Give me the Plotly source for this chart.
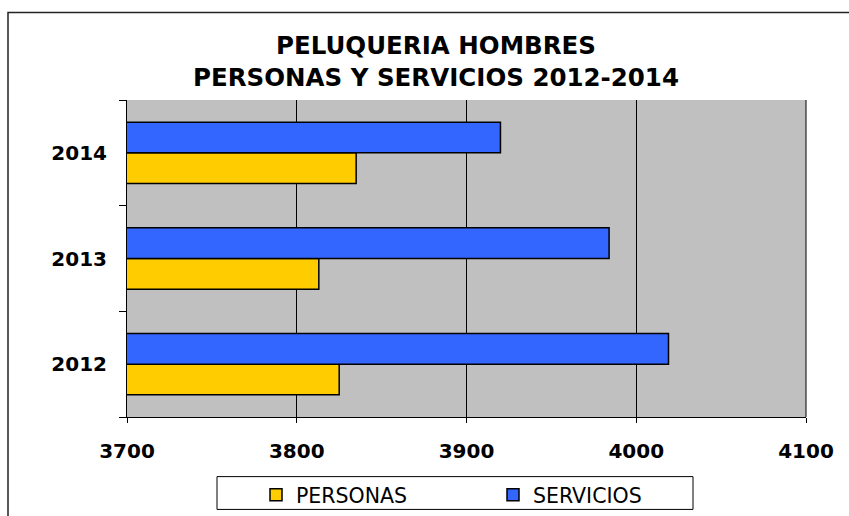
import plotly.graph_objects as go

# data
years = ["2012", "2013", "2014"]
personas = [3825, 3813, 3835]
servicios = [4019, 3984, 3920]
x_ticks = [3700, 3800, 3900, 4000, 4100]

fig = go.Figure()

fig.add_trace(go.Bar(
    y=years, x=personas, orientation="h", name="PERSONAS",
    marker=dict(color="#FFCC00", line=dict(color="black", width=1.5)),
))
fig.add_trace(go.Bar(
    y=years, x=servicios, orientation="h", name="SERVICIOS",
    marker=dict(color="#3366FF", line=dict(color="black", width=1.5)),
))

W, H = 849, 516
L, R, T, B = 127, 43, 100, 97
pw = W - L - R
ph = H - T - B


def px_x(p):
    return (p - L) / pw


def px_y(p):
    return (H - B - p) / ph


fig.update_layout(
    width=W, height=H,
    margin=dict(l=L, r=R, t=T, b=B),
    paper_bgcolor="white",
    plot_bgcolor="#C0C0C0",
    font=dict(family="DejaVu Sans", color="black"),
    title=dict(
        text="<b>PELUQUERIA HOMBRES<br>PERSONAS Y SERVICIOS 2012-2014</b>",
        font=dict(size=24.5, family="DejaVu Sans"),
        x=px_x(436), xref="paper", xanchor="center",
        y=1 - 54 / H, yref="container", yanchor="middle",
    ),
    barmode="group",
    bargap=0.42,
    bargroupgap=0,
    xaxis=dict(
        range=[3700, 4100], tickvals=x_ticks, showgrid=True, gridcolor="black",
        gridwidth=1, showline=True, linecolor="black", linewidth=1,
        ticks="outside", ticklen=5, tickcolor="black",
        tickfont=dict(size=20, family="DejaVu Sans", weight="bold"),
        ticklabelstandoff=11, zeroline=False, fixedrange=True,
    ),
    yaxis=dict(
        categoryorder="array", categoryarray=years,
        showline=True, linecolor="black", linewidth=1,
        ticks="outside", ticklen=7, tickcolor="black", tickson="boundaries",
        tickfont=dict(size=20, family="DejaVu Sans", weight="bold"),
        ticklabelstandoff=15, showgrid=False, fixedrange=True,
    ),
    showlegend=True,
    legend=dict(
        orientation="h", xref="paper", yref="container",
        x=px_x(256), xanchor="left", y=1 - 495 / H, yanchor="middle",
        bgcolor="rgba(0,0,0,0)", borderwidth=0,
        font=dict(size=20.5, family="DejaVu Sans"),
        entrywidth=192, entrywidthmode="pixels", traceorder="normal",
    ),
    shapes=[
        # legend box
        dict(type="rect", xref="paper", yref="paper",
             x0=px_x(217), x1=px_x(693), y0=px_y(479), y1=px_y(512),
             line=dict(color="black", width=1), fillcolor="white", layer="below"),
        # outer chart border
        dict(type="rect", xref="paper", yref="paper",
             x0=px_x(8), x1=px_x(860), y0=px_y(530), y1=px_y(12),
             line=dict(color="#222222", width=1.5), fillcolor="rgba(0,0,0,0)"),
        # right edge of plot area
        dict(type="line", xref="paper", yref="paper",
             x0=1, x1=1, y0=0, y1=1, line=dict(color="black", width=1)),
    ],
)

fig.write_html("out.html", config={"displayModeBar": False},
               post_script="document.body.style.margin='0';")
